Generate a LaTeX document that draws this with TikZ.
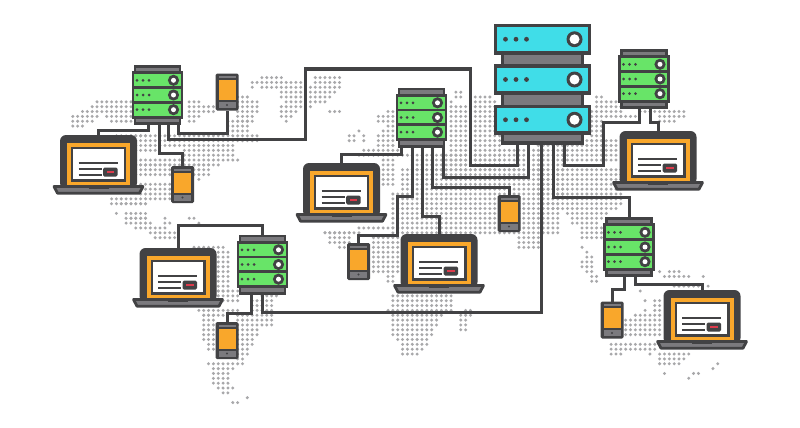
\documentclass[tikz,border=0pt]{standalone}
\usetikzlibrary{calc}
\definecolor{dk}{HTML}{424244}
\definecolor{gy}{HTML}{7B7A7E}
\definecolor{grn}{HTML}{68E468}
\definecolor{cyn}{HTML}{40DDE8}
\definecolor{org}{HTML}{F9A72B}
\definecolor{rd}{HTML}{DC3A4C}
\definecolor{mapdot}{HTML}{A8A8AA}
\tikzset{
  wire/.style={draw=dk,line width=3pt,line join=miter},
  holder/.style={inner sep=0pt,outer sep=0pt,draw=none},
  tline/.style={draw=dk,line width=2.1pt}
}
\newcommand{\rackblade}[3]{%
  \fill[grn,draw=dk,line width=2.8pt] (-24.5,#1-7.5) rectangle (24.5,#1+7.5);
  \foreach \dx in {-20.5,-14.5,-8.5}{\fill[dk] (\dx,#1) circle (1.5);}
  \fill[dk] (16,#1) circle (5.6);
  \fill[white] (16,#1) circle (2.5);
}
\newcommand{\srvbox}[3]{% name, cx, cy
  \node[holder,minimum width=51pt,minimum height=60pt] (#1) at (#2,#3) {};
  \begin{scope}[shift={(#2,#3)}]
    \fill[gy,draw=dk,line width=2.8pt] (-22.5,-28.6) rectangle (22.5,-21);
    \fill[gy,draw=dk,line width=2.8pt] (-22.5,21) rectangle (22.5,28.6);
    \rackblade{-14.7}{}{}
    \rackblade{0}{}{}
    \rackblade{14.7}{}{}
  \end{scope}
}
\newcommand{\lapbox}[3]{% name, cx, top y
  \node[holder,minimum width=90pt,minimum height=59pt] (#1) at (#2,#3+29.5) {};
  \begin{scope}[shift={(#2,#3)}]
    \fill[dk,rounded corners=6pt] (-38.5,54) -- (-38.5,0) -- (38.5,0) -- (38.5,54) -- cycle;
    \fill[org] (-31.5,8) rectangle (31.5,51);
    \fill[dk] (-27.5,12) rectangle (27.5,46.5);
    \fill[white] (-25.2,14.2) rectangle (25.2,44.3);
    \draw[tline] (-20,28) -- (19,28);
    \draw[tline] (-20,34.2) -- (3,34.2);
    \draw[tline] (-20,40) -- (3,40);
    \fill[dk,rounded corners=1.5pt] (4.5,32.5) rectangle (19,41.5);
    \fill[rd] (8,36) rectangle (15.5,38);
    \fill[gy,draw=dk,line width=2.8pt,line join=round] (-44.5,51.5) -- (44.5,51.5) -- (41,58.2) -- (-41,58.2) -- cycle;
    \fill[dk] (-10,51.5) rectangle (10,54);
  \end{scope}
}
\newcommand{\phnbox}[3]{% name, cx, cy
  \node[holder,minimum width=23pt,minimum height=37pt] (#1) at (#2,#3) {};
  \begin{scope}[shift={(#2,#3)}]
    \fill[dk,rounded corners=1.5pt] (-11.5,-18.5) rectangle (11.5,18.5);
    \fill[gy] (-8.5,-16) rectangle (8.5,-14);
    \fill[org] (-8.5,-12) rectangle (8.5,8);
    \fill[gy] (-8.5,10) rectangle (8.5,16);
    \fill[dk] (0,13) circle (1.2);
  \end{scope}
}
\newcommand{\bigblade}[2]{% top, bottom
  \fill[cyn,draw=dk,line width=3.4pt] (-47,#1) rectangle (47,#2);
  \foreach \dx in {-37,-26.5,-16}{\fill[dk] (\dx,#1/2+#2/2) circle (2.4);}
  \fill[dk] (32,#1/2+#2/2) circle (8);
  \fill[white] (32,#1/2+#2/2) circle (5);
}
\begin{document}
\begin{tikzpicture}[x=1pt,y=-1pt]
\useasboundingbox (0,0) rectangle (800,428);
\fill[white] (0,0) rectangle (800,428);
% world map of dots: x1/x2/y1/y2
\foreach \xa/\xb/\ya/\yb in {
 98/130/103/103, 93/130/108/108, 83/130/113/113, 73/95/118/118, 108/130/118/118, 73/90/123/123, 110/130/123/123, 73/82/128/128,
 187/197/103/103, 187/215/108/113, 187/197/118/118, 187/195/123/123, 240/247/98/98, 240/257/103/113, 240/250/118/123, 230/247/123/133,
 118/147/137/137, 133/257/138/143, 137/233/147/147, 137/157/152/152, 185/233/152/157, 137/237/158/158, 137/217/163/163,
 137/170/167/177, 193/210/167/173, 197/197/178/178, 140/170/182/192, 113/170/197/197, 113/147/202/202, 123/147/206/206,
 118/118/211/211, 128/145/211/216, 167/167/216/216, 188/193/216/216, 130/145/216/216, 128/150/221/221, 163/168/221/221, 201/201/221/221,
 138/165/226/226, 152/175/231/231, 157/175/236/236,
 260/280/80/80, 313/340/80/84, 250/267/84/84, 273/300/84/84, 250/250/89/89, 263/303/89/89, 310/340/89/89,
 283/303/94/99, 310/333/94/94, 310/330/99/99, 287/303/104/104, 310/323/104/104, 280/303/109/109, 310/310/109/109,
 280/297/113/113, 328/340/113/113, 280/290/118/118, 285/285/123/123,
 455/462/93/98, 473/490/98/98, 450/450/103/103, 473/495/103/103, 452/500/108/165,
 387/395/113/113, 377/395/118/123, 387/395/128/128, 358/358/133/133, 382/395/133/133, 347/355/138/142, 363/363/138/142, 380/395/138/147,
 362/400/152/152, 360/410/157/157, 383/395/161/170, 412/495/157/170, 500/540/150/170,
 385/395/175/185, 402/560/172/188, 392/560/192/235, 357/400/227/227, 323/357/231/231, 327/347/234/234, 332/347/238/244, 340/347/248/248, 347/347/253/253,
 373/400/240/273, 388/395/278/283,
 392/452/295/304, 387/452/309/309, 465/472/309/309, 392/440/314/314, 460/472/314/314, 395/438/318/323, 460/468/318/323, 395/433/328/333, 460/468/328/328,
 397/428/338/338, 402/428/343/343, 402/423/347/347, 402/418/352/352, 520/540/236/246,
 595/603/97/97, 595/620/102/107, 590/620/112/117, 620/637/117/117, 640/680/112/112, 685/685/112/112, 660/682/117/117, 660/672/122/122,
 590/603/122/140, 565/618/143/162, 540/563/145/192, 565/622/170/192, 553/623/200/200, 547/620/205/205, 553/617/210/210, 567/607/215/215, 572/603/220/220, 572/595/225/225,
 582/603/230/235, 582/600/240/240, 582/582/245/245, 587/587/250/250, 587/593/255/255, 582/593/260/260, 583/593/265/265, 587/593/270/270, 592/598/275/280,
 660/660/273/273, 670/677/273/273, 665/687/278/278, 705/705/278/278, 708/708/284/284, 673/697/288/288, 640/640/293/293, 646/646/303/303,
 655/662/303/308, 646/646/308/308, 635/662/313/313, 625/662/318/337, 610/657/342/347, 610/622/352/352, 650/650/352/352, 660/687/352/352, 660/682/358/358, 660/677/362/362,
 665/665/372/372, 693/698/375/375, 712/712/367/367, 716/716/362/362, 687/687/378/378,
 192/222/245/245, 217/227/250/290, 217/237/292/303, 197/237/308/308, 205/223/313/313, 205/215/317/338, 207/215/343/343, 210/215/348/348,
 263/277/298/298, 252/272/303/308, 240/272/317/323, 240/257/328/333, 240/253/338/338, 240/252/343/343, 240/248/348/348, 240/246/353/353, 240/242/358/358,
 210/242/363/363, 213/232/367/367, 215/228/372/382, 217/232/387/387, 225/228/392/392, 246/246/397/397, 232/237/402/402
}{
  \pgfmathtruncatemacro{\ia}{round(\xa/4.85)}
  \pgfmathtruncatemacro{\ib}{round(\xb/4.85)}
  \pgfmathtruncatemacro{\ja}{round(\ya/4.85)}
  \pgfmathtruncatemacro{\jb}{round(\yb/4.85)}
  \foreach \i in {\ia,...,\ib}{
    \foreach \j in {\ja,...,\jb}{
      \fill[mapdot] (\i*4.85,\j*4.85) circle (1.65);
    }
  }
}
% holders and devices
\node[holder,minimum width=97pt,minimum height=120pt] (main) at (542.5,83.5) {};
\srvbox{s1}{157.5}{95}
\srvbox{s2}{421.5}{117.5}
\srvbox{s3}{644}{79}
\srvbox{s4}{629}{247}
\srvbox{s5}{262.5}{264.5}
\lapbox{l1}{98.5}{135}
\lapbox{l2}{341.5}{163}
\lapbox{l3}{439}{234}
\lapbox{l4}{658}{131}
\lapbox{l5}{702}{290}
\lapbox{l6}{178}{248}
\phnbox{p1}{227}{92}
\phnbox{p2}{182.5}{184.5}
\phnbox{p3}{509}{213.5}
\phnbox{p4}{358.5}{261.5}
\phnbox{p5}{612}{320}
\phnbox{p6}{227}{340.5}
% connectors
\draw[wire] ([xshift=-9.5pt]s1.south) -- ++(0,5) -| (l1.north);
\draw[wire] ([xshift=1.5pt]s1.south) -- ++(0,28) -| (p2.north);
\draw[wire] ([xshift=10.5pt]s1.south) -- ++(0,14) -- ++(137,0) -- ++(0,-70) -- ++(165,0) -- ++(0,96) -| ([xshift=-25pt]main.south);
\draw[wire] ([xshift=20.5pt]s1.south) -- ++(0,8) -| (p1.south);
\draw[wire] ([xshift=-20.5pt]s2.south) -- ++(0,7) -| (l2.north);
\draw[wire] ([xshift=-9.5pt]s2.south) -- ++(0,49) -- ++(-15,0) -- ++(0,39) -| (p4.north);
\draw[wire] ([xshift=0.5pt]s2.south) -- ++(0,69) -| (l3.north);
\draw[wire] ([xshift=10.5pt]s2.south) -- ++(0,40) -| (p3.north);
\draw[wire] ([xshift=21.5pt]s2.south) -- ++(0,30) -| ([xshift=-14pt]main.south);
\draw[wire] ([xshift=-1pt]main.south) -- ++(0,169) -| (s5.south);
\draw[wire] ([xshift=11pt]main.south) -- ++(0,54) -| (s4.north);
\draw[wire] ([xshift=22pt]main.south) -- ++(0,22) -- ++(39,0) -- ++(0,-43) -| ([xshift=-5pt]s3.south);
\draw[wire] ([xshift=6pt]s3.south) -- ++(0,13) -| (l4.north);
\draw[wire] ([xshift=-5pt]s4.south) -- ++(0,12) -| (p5.north);
\draw[wire] ([xshift=6pt]s4.south) -- ++(0,7) -| (l5.north);
\draw[wire] (l6.north) -- ++(0,-23) -| (s5.north);
\draw[wire] ([xshift=-11.5pt]s5.south) -- ++(0,19) -| (p6.north);
% main rack, on top of its wires
\begin{scope}[shift={(542.5,0)}]
  \fill[gy,draw=dk,line width=3.4pt] (-40,52) rectangle (40,67);
  \fill[gy,draw=dk,line width=3.4pt] (-40,92) rectangle (40,107);
  \fill[gy,draw=dk,line width=3.4pt] (-40,132) rectangle (40,143);
  \bigblade{25.5}{53}
  \bigblade{66}{93}
  \bigblade{106.5}{133}
\end{scope}
\end{tikzpicture}
\end{document}
